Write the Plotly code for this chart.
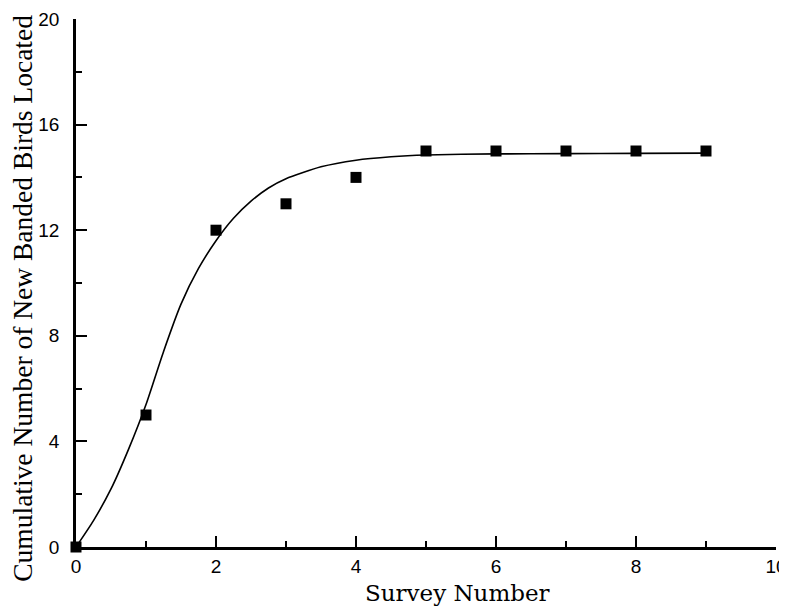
import plotly.graph_objects as go

# Observed data (survey number vs cumulative new banded birds)
survey = [0, 1, 2, 3, 4, 5, 6, 7, 8, 9]
birds = [0, 5, 12, 13, 14, 15, 15, 15, 15, 15]

# Fitted curve
curve_x = [0, 0.25, 0.5, 0.75, 1.0, 1.25, 1.5, 1.75, 2.0, 2.25, 2.5, 2.75, 3.0,
           3.5, 4.0, 4.5, 5.0, 6.0, 7.0, 8.0, 9.0]
curve_y = [0, 1.0, 2.2, 3.7, 5.4, 7.4, 9.2, 10.55, 11.6, 12.45, 13.1, 13.6, 13.95,
           14.4, 14.65, 14.78, 14.85, 14.89, 14.9, 14.91, 14.92]

x_ticks = [0, 2, 4, 6, 8, 10]
y_ticks = [0, 4, 8, 12, 16, 20]

x_title = "Survey Number"
y_title = "Cumulative Number of New Banded Birds Located"

# page body has an 8px margin; figure is placed at (8, 8)
OFF = 8
PL, PR, PT, PB = 76, 776, 19, 547.5   # target plot-area edges in window pixels
W, H = 787 - OFF, 606 - OFF
PW, PH = PR - PL, PB - PT

fig = go.Figure()
fig.add_trace(go.Scatter(
    x=curve_x, y=curve_y, mode="lines",
    line=dict(color="black", width=1.6, shape="spline", smoothing=0.6),
    hoverinfo="skip", showlegend=False, cliponaxis=False,
))
fig.add_trace(go.Scatter(
    x=survey, y=birds, mode="markers",
    marker=dict(symbol="square", size=11, color="black", line=dict(width=0)),
    showlegend=False, cliponaxis=False,
))

tick_font = dict(family="Liberation Sans, Arial, sans-serif", size=19, color="black")

fig.update_layout(
    width=W, height=H,
    margin=dict(l=PL - OFF, r=W - (PR - OFF), t=PT - OFF, b=H - (PB - OFF), autoexpand=False),
    paper_bgcolor="white", plot_bgcolor="white",
    xaxis=dict(
        range=[0, 10], tickvals=x_ticks, ticktext=[str(v) for v in x_ticks],
        ticks="inside", ticklen=11, tickwidth=2, tickcolor="black",
        minor=dict(dtick=1, tick0=0, ticks="inside", ticklen=6, tickwidth=2, tickcolor="black"),
        showline=True, linecolor="black", linewidth=2.5, mirror=False,
        showgrid=False, zeroline=False, tickfont=tick_font, ticklabelstandoff=0,
        automargin=False,
    ),
    yaxis=dict(
        range=[0, 20], tickvals=y_ticks, ticktext=[str(v) for v in y_ticks],
        ticks="inside", ticklen=11, tickwidth=2, tickcolor="black",
        minor=dict(dtick=2, tick0=0, ticks="inside", ticklen=6, tickwidth=2, tickcolor="black"),
        showline=True, linecolor="black", linewidth=2.5, mirror=False,
        showgrid=False, zeroline=False, tickfont=tick_font, ticklabelstandoff=10,
        automargin=False,
    ),
    annotations=[
        dict(text=x_title, xref="paper", yref="paper",
             x=(457 - PL) / PW, y=-(594 - PB) / PH,
             xanchor="center", yanchor="middle", showarrow=False,
             font=dict(family="DejaVu Serif, Liberation Serif, serif", size=23, color="black")),
        dict(text=y_title, xref="paper", yref="paper", textangle=-90,
             x=-(PL - 23) / PW, y=(PB - 299) / PH,
             xanchor="center", yanchor="middle", showarrow=False,
             font=dict(family="Liberation Serif, Times New Roman, serif", size=27.5, color="black")),
    ],
)

fig.write_html("out.html")
